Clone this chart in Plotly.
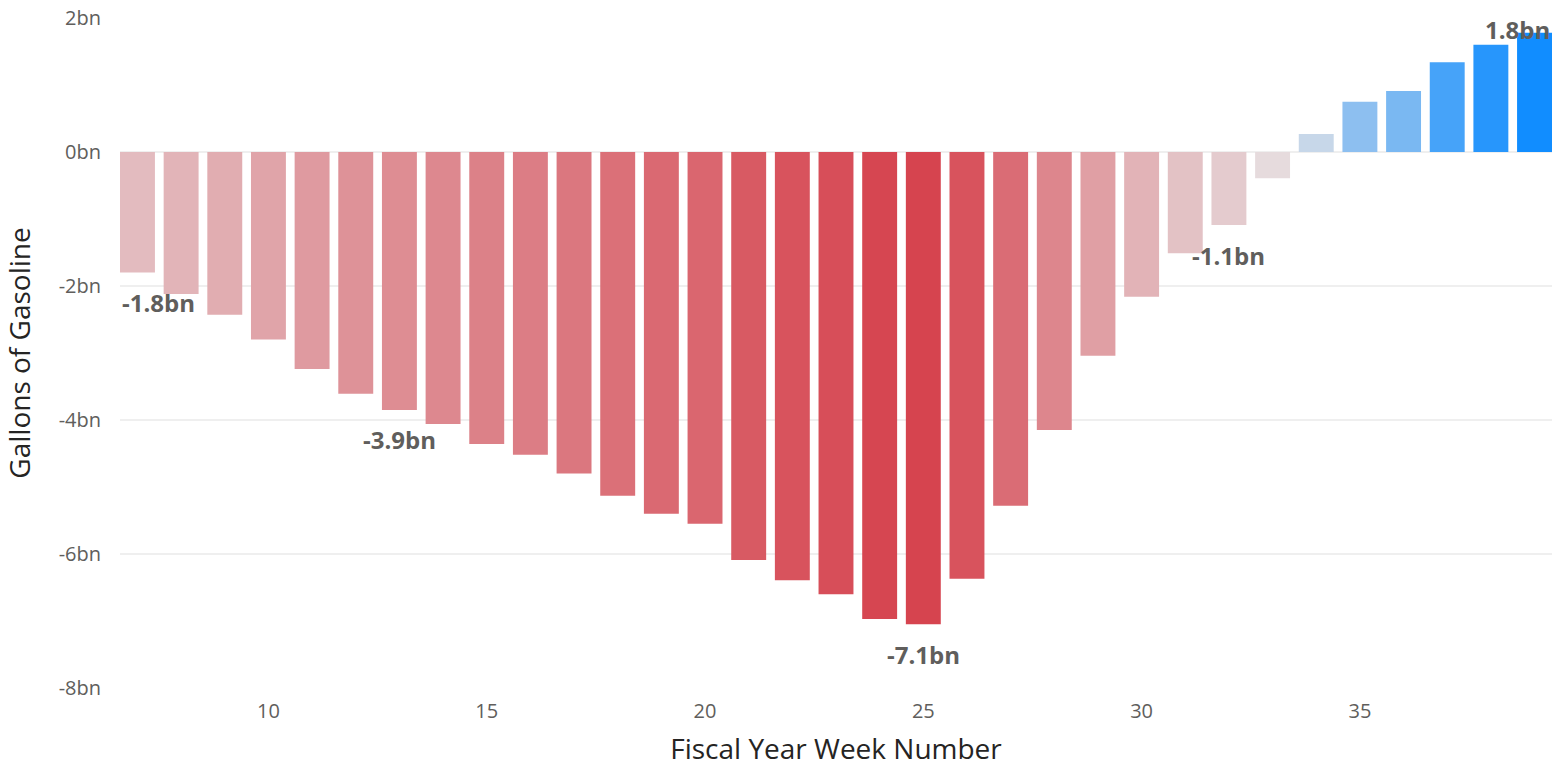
import plotly.graph_objects as go

weeks = list(range(7, 40))
values = [-1.80, -2.12, -2.43, -2.80, -3.24, -3.61, -3.85, -4.06, -4.36, -4.52,
          -4.80, -5.13, -5.40, -5.55, -6.09, -6.39, -6.60, -6.97, -7.05, -6.37,
          -5.28, -4.15, -3.04, -2.16, -1.51, -1.09, -0.39, 0.27, 0.75, 0.91,
          1.34, 1.60, 1.78]
label_weeks = [7, 13, 25, 32, 39]
label_texts = ["-1.8bn", "-3.9bn", "-7.1bn", "-1.1bn", "1.8bn"]
y_tickvals = [2, 0, -2, -4, -6, -8]
y_ticktext = ["2bn", "0bn", "-2bn", "-4bn", "-6bn", "-8bn"]

vmin, vmax = min(values), max(values)
mid = (0 - vmin) / (vmax - vmin)
colorscale = [[0, "#d6444f"], [mid, "#e7e4e5"], [1, "#118dff"]]

FONT = "Open Sans"
X_RANGE = [6.6, 39.4]

fig = go.Figure(go.Bar(
    x=weeks, y=values, width=0.8,
    marker=dict(color=values, colorscale=colorscale, cmin=vmin, cmax=vmax,
                line=dict(width=0)),
    hoverinfo="x+y",
))

for w, t in zip(label_weeks, label_texts):
    v = values[weeks.index(w)]
    ann = dict(x=w, y=v, text="<b>" + t + "</b>", showarrow=False,
               font=dict(family=FONT, size=24, color="#605e5c"),
               yanchor="middle", xanchor="center")
    ann["yshift"] = -30 if v < 0 else 3
    if w == weeks[0]:
        ann["xanchor"] = "left"
        ann["x"] = X_RANGE[0]
    if w == weeks[-1]:
        ann["xanchor"] = "right"
        ann["x"] = X_RANGE[1]
    fig.add_annotation(**ann)

fig.update_layout(
    width=1568, height=771,
    margin=dict(l=120, r=16, t=18, b=83, autoexpand=False),
    paper_bgcolor="white", plot_bgcolor="white",
    font=dict(family=FONT, color="#605e5c"),
    showlegend=False,
    xaxis=dict(
        range=X_RANGE, tickvals=[10, 15, 20, 25, 30, 35],
        automargin=False,
        showgrid=False, zeroline=False, showline=False, ticks="",
        ticklabelstandoff=9,
        tickfont=dict(size=20, color="#605e5c", family=FONT),
        title=dict(text="Fiscal Year Week Number", standoff=16,
                   font=dict(size=28, color="#252423", family=FONT)),
    ),
    yaxis=dict(
        range=[-8, 2], tickvals=y_tickvals, ticktext=y_ticktext,
        automargin=False,
        showgrid=True, gridcolor="#efefef", gridwidth=1.5,
        zeroline=False, showline=False, ticks="",
        ticklabelstandoff=18,
        tickfont=dict(size=20, color="#605e5c", family=FONT),
        title=dict(text="Gallons of Gasoline", standoff=21,
                   font=dict(size=28, color="#252423", family=FONT)),
    ),
)

fig.write_html("out.html",
               config={"displayModeBar": False},
               post_script="document.body.style.margin='0';"
                           "document.documentElement.style.overflow='hidden';")
